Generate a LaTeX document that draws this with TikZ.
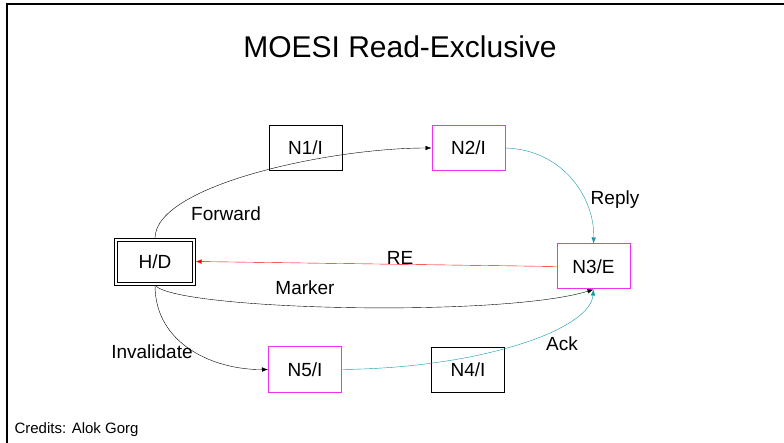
\documentclass[tikz,border=0pt]{standalone}
\usepackage{fontspec}
\setmainfont{Liberation Sans}
\usetikzlibrary{arrows.meta}
\definecolor{nodepink}{RGB}{240,50,240}
\definecolor{replyteal}{RGB}{20,150,170}
\begin{document}
\begin{tikzpicture}
  [x=1pt,y=-1pt,>={Latex[length=6pt,width=4.5pt]},
   every node/.style={font=\fontsize{19}{21}\selectfont,text=black},
   box/.style={draw,minimum width=73pt,minimum height=45pt,inner sep=0pt},
   pinkbox/.style={box,draw=nodepink,line width=1pt},
   homebox/.style={draw,minimum width=75pt,minimum height=41pt,inner sep=0pt},
   lbl/.style={inner sep=1pt}]
  \useasboundingbox (0,0) rectangle (784,443);
  \draw[line width=2pt] (7,443) -- (7,4) -- (784,4);

  \node (title) at (400,47) {\fontsize{30}{33}\selectfont MOESI Read-Exclusive};
  \node[anchor=west] (credits) at (11,430) {\fontsize{15}{17}\selectfont Credits: Alok Gorg};

  \node[homebox] (hd) at (155,261.5) {H/D};
  \node[draw,minimum width=81pt,minimum height=47pt] (hdout) at (hd) {};
  \node[box] (n1) at (305.5,148) {N1/I};
  \node[pinkbox] (n2) at (468.5,148) {N2/I};
  \node[pinkbox] (n3) at (593.5,266.5) {N3/E};
  \node[box] (n4) at (468,369.5) {N4/I};
  \node[pinkbox] (n5) at (305,369.5) {N5/I};

  \draw[->] (hdout.north) .. controls (156,185) and (330,148) .. (n2.west);
  \draw[->,replyteal] (n2.east) .. controls (565,150) and (595,200) .. (n3.north);
  \draw[->,red] (n3.west) -- (hdout.east);
  \draw[->] (hdout.south) .. controls (175,310) and (500,318) .. (n3.south);
  \draw[->] (hdout.south) .. controls (155,345) and (215,370) .. (n5.west);
  \draw[->,replyteal] (n5.east) .. controls (480,368) and (590,330) .. (n3.south);

  \node[lbl] (fwd) at (226,214) {Forward};
  \node[lbl] (rep) at (615,200) {Reply};
  \node[lbl] (re) at (400,258) {RE};
  \node[lbl] (mrk) at (305,288) {Marker};
  \node[lbl] (inv) at (152,352) {Invalidate};
  \node[lbl] (ack) at (562,344) {Ack};
\end{tikzpicture}
\end{document}
